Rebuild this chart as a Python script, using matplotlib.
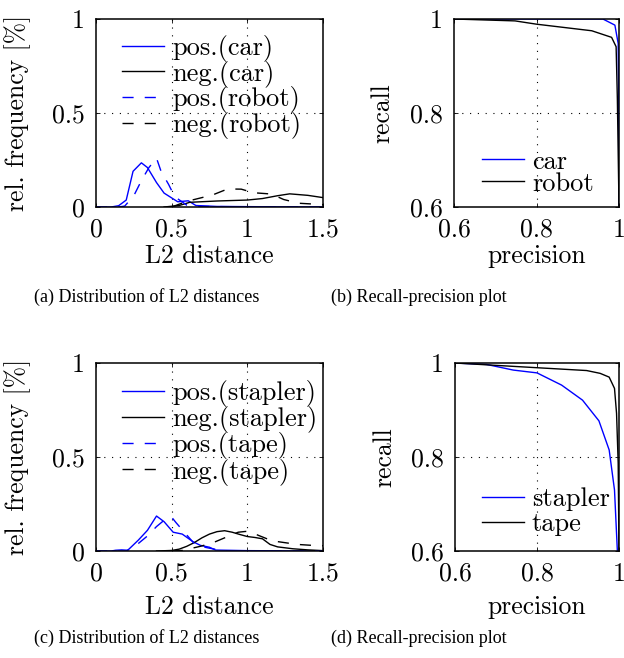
import matplotlib
matplotlib.use('Agg')
import matplotlib.pyplot as plt

'''Colors'''
BLUE = '#0000ff'
BLACK = '#000000'

# (a) L2 distance histograms, car / robot
car_pos_x = [0.0, 0.1, 0.15, 0.2, 0.245, 0.3, 0.34, 0.4, 0.45, 0.54, 0.61, 0.66, 0.8, 1.0, 1.2, 1.5]
car_pos_y = [0.0, 0.0, 0.007, 0.037, 0.19, 0.235, 0.21, 0.13, 0.074, 0.028, 0.033, 0.008, 0.003, 0.002, 0.001, 0.0]
car_neg_x = [0.45, 0.55, 0.62, 0.8, 1.0, 1.1, 1.2, 1.28, 1.4, 1.5]
car_neg_y = [0.0, 0.008, 0.025, 0.032, 0.037, 0.045, 0.06, 0.07, 0.062, 0.05]
robot_pos_x = [0.0, 0.15, 0.19, 0.25, 0.3, 0.35, 0.4, 0.43, 0.48, 0.52, 0.6, 0.7, 1.0, 1.5]
robot_pos_y = [0.0, 0.0, 0.005, 0.06, 0.14, 0.21, 0.26, 0.19, 0.12, 0.055, 0.01, 0.003, 0.001, 0.0]
robot_neg_x = [0.5, 0.6, 0.77, 0.87, 0.96, 1.04, 1.16, 1.24, 1.34, 1.43, 1.5]
robot_neg_y = [0.0, 0.03, 0.064, 0.096, 0.095, 0.076, 0.069, 0.04, 0.02, 0.016, 0.012]

# (b) recall-precision, car / robot
car_prec = [0.6, 0.8, 0.961, 0.99, 0.998, 0.999, 1.0]
car_rec = [1.0, 1.0, 1.0, 0.987, 0.948, 0.84, 0.6]
robot_prec = [0.6, 0.748, 0.8, 0.934, 0.982, 0.993, 0.996, 1.0]
robot_rec = [1.0, 0.996, 0.989, 0.975, 0.961, 0.941, 0.83, 0.6]

# (c) L2 distance histograms, stapler / tape
stapler_pos_x = [0.0, 0.1, 0.13, 0.17, 0.21, 0.28, 0.34, 0.4, 0.45, 0.51, 0.57, 0.64, 0.69, 0.75, 0.79, 1.0, 1.5]
stapler_pos_y = [0.0, 0.0, 0.004, 0.006, 0.004, 0.058, 0.11, 0.186, 0.156, 0.1, 0.09, 0.05, 0.03, 0.02, 0.005, 0.002, 0.0]
stapler_neg_x = [0.4, 0.5, 0.55, 0.6, 0.65, 0.7, 0.75, 0.8, 0.85, 0.9, 0.95, 1.0, 1.05, 1.1, 1.15, 1.2, 1.3, 1.4, 1.5]
stapler_neg_y = [0.0, 0.003, 0.01, 0.025, 0.045, 0.07, 0.09, 0.103, 0.108, 0.1, 0.088, 0.077, 0.072, 0.065, 0.035, 0.022, 0.012, 0.006, 0.002]
tape_pos_x = [0.0, 0.2, 0.28, 0.34, 0.4, 0.46, 0.5, 0.53, 0.6, 0.66, 0.75, 0.85, 1.5]
tape_pos_y = [0.0, 0.0, 0.04, 0.08, 0.13, 0.17, 0.18, 0.15, 0.085, 0.03, 0.015, 0.0, 0.0]
tape_neg_x = [0.5, 0.57, 0.69, 0.77, 0.85, 0.94, 1.0, 1.04, 1.13, 1.2, 1.33, 1.43, 1.5]
tape_neg_y = [0.0, 0.003, 0.025, 0.043, 0.07, 0.1, 0.105, 0.094, 0.065, 0.05, 0.035, 0.03, 0.028]

# (d) recall-precision, stapler / tape
stapler_prec = [0.6, 0.677, 0.742, 0.8, 0.86, 0.911, 0.951, 0.976, 0.989, 0.996]
stapler_rec = [1.0, 0.997, 0.985, 0.979, 0.953, 0.921, 0.877, 0.815, 0.73, 0.6]
tape_prec = [0.6, 0.8, 0.921, 0.954, 0.976, 0.989, 0.994, 0.998, 1.0]
tape_rec = [1.0, 0.99, 0.984, 0.978, 0.97, 0.946, 0.893, 0.787, 0.6]

dist_ticks = [0, 0.5, 1, 1.5]
dist_ticklabels = ['0', '0.5', '1', '1.5']
freq_ticks = [0, 0.5, 1]
freq_ticklabels = ['0', '0.5', '1']
pr_ticks = [0.6, 0.8, 1.0]
pr_ticklabels = ['0.6', '0.8', '1']

captions = ['(a) Distribution of L2 distances', '(b) Recall-precision plot',
            '(c) Distribution of L2 distances', '(d) Recall-precision plot']

plt.rcParams['font.family'] = 'cmr10'
plt.rcParams['mathtext.fontset'] = 'cm'
plt.rcParams['axes.formatter.use_mathtext'] = True
FS = 18.5
LEG_FS = 19

DASH = (8, 8)
GRID_DOTS = (1, 6)


def style_axis(ax, xt, xtl, yt, ytl, xlim, ylim, xlabel, ylabel, xlab_y, ylab_x):
    ax.set_xlim(*xlim)
    ax.set_ylim(*ylim)
    ax.set_xticks(xt)
    ax.set_xticklabels(xtl, fontsize=FS)
    ax.set_yticks(yt)
    ax.set_yticklabels(ytl, fontsize=FS)
    ax.tick_params(direction='in', top=True, right=True, length=3, width=0.6, pad=8)
    for sp in ax.spines.values():
        sp.set_linewidth(1.1)
    for x in xt[1:-1]:
        ax.axvline(x, color='k', lw=0.8, dashes=GRID_DOTS, zorder=0)
    for y in yt[1:-1]:
        ax.axhline(y, color='k', lw=0.8, dashes=GRID_DOTS, zorder=0)
    ax.set_xlabel(xlabel, fontsize=FS)
    ax.set_ylabel(ylabel, fontsize=FS)
    ax.xaxis.set_label_coords(0.5, xlab_y)
    ax.yaxis.set_label_coords(ylab_x, 0.5)


def add_legend(ax, loc, anchor, spacing):
    ax.legend(loc=loc, bbox_to_anchor=anchor, frameon=False, fontsize=LEG_FS,
              handlelength=1.6, handletextpad=0.3, labelspacing=spacing,
              borderpad=0, borderaxespad=0)


fig = plt.figure(figsize=(6.24, 6.58), dpi=100)

ax_a = fig.add_axes([0.1538, 0.6854, 0.3638, 0.2857])
ax_b = fig.add_axes([0.7276, 0.6854, 0.2644, 0.2857])
ax_c = fig.add_axes([0.1538, 0.1626, 0.3638, 0.2857])
ax_d = fig.add_axes([0.7292, 0.1626, 0.2628, 0.2857])

'''(a)'''
ax_a.plot(car_pos_x, car_pos_y, color=BLUE, lw=1.0, label='pos.(car)')
ax_a.plot(car_neg_x, car_neg_y, color=BLACK, lw=1.0, label='neg.(car)')
ax_a.plot(robot_pos_x, robot_pos_y, color=BLUE, lw=1.0, dashes=DASH, label='pos.(robot)')
ax_a.plot(robot_neg_x, robot_neg_y, color=BLACK, lw=1.0, dashes=DASH, label='neg.(robot)')
style_axis(ax_a, dist_ticks, dist_ticklabels, freq_ticks, freq_ticklabels,
           (0, 1.5), (0, 1), 'L2 distance', 'rel. frequency [%]', -0.2, -0.285)
add_legend(ax_a, 'upper left', (0.115, 0.915), -0.05)

'''(b)'''
ax_b.plot(car_prec, car_rec, color=BLUE, lw=1.0, label='car')
ax_b.plot(robot_prec, robot_rec, color=BLACK, lw=1.0, label='robot')
style_axis(ax_b, pr_ticks, pr_ticklabels, pr_ticks, pr_ticklabels,
           (0.6, 1.0), (0.6, 1.0), 'precision', 'recall', -0.2, -0.36)
add_legend(ax_b, 'lower left', (0.168, 0.06), -0.06)

'''(c)'''
ax_c.plot(stapler_pos_x, stapler_pos_y, color=BLUE, lw=1.0, label='pos.(stapler)')
ax_c.plot(stapler_neg_x, stapler_neg_y, color=BLACK, lw=1.0, label='neg.(stapler)')
ax_c.plot(tape_pos_x, tape_pos_y, color=BLUE, lw=1.0, dashes=DASH, label='pos.(tape)')
ax_c.plot(tape_neg_x, tape_neg_y, color=BLACK, lw=1.0, dashes=DASH, label='neg.(tape)')
style_axis(ax_c, dist_ticks, dist_ticklabels, freq_ticks, freq_ticklabels,
           (0, 1.5), (0, 1), 'L2 distance', 'rel. frequency [%]', -0.235, -0.285)
add_legend(ax_c, 'upper left', (0.115, 0.91), -0.03)

'''(d)'''
ax_d.plot(stapler_prec, stapler_rec, color=BLUE, lw=1.0, label='stapler')
ax_d.plot(tape_prec, tape_rec, color=BLACK, lw=1.0, label='tape')
style_axis(ax_d, pr_ticks, pr_ticklabels, pr_ticks, pr_ticklabels,
           (0.6, 1.0), (0.6, 1.0), 'precision', 'recall', -0.235, -0.36)
add_legend(ax_d, 'lower left', (0.163, 0.08), 0.04)

'''captions'''
cap_pos = [(147, 297), (419, 297), (147, 638), (419, 638)]
for (px, py), text in zip(cap_pos, captions):
    fig.text(px / 624, 1 - py / 658, text, ha='center', va='center',
             fontsize=13, family='Liberation Serif')

fig.savefig('out.png', dpi=100)
